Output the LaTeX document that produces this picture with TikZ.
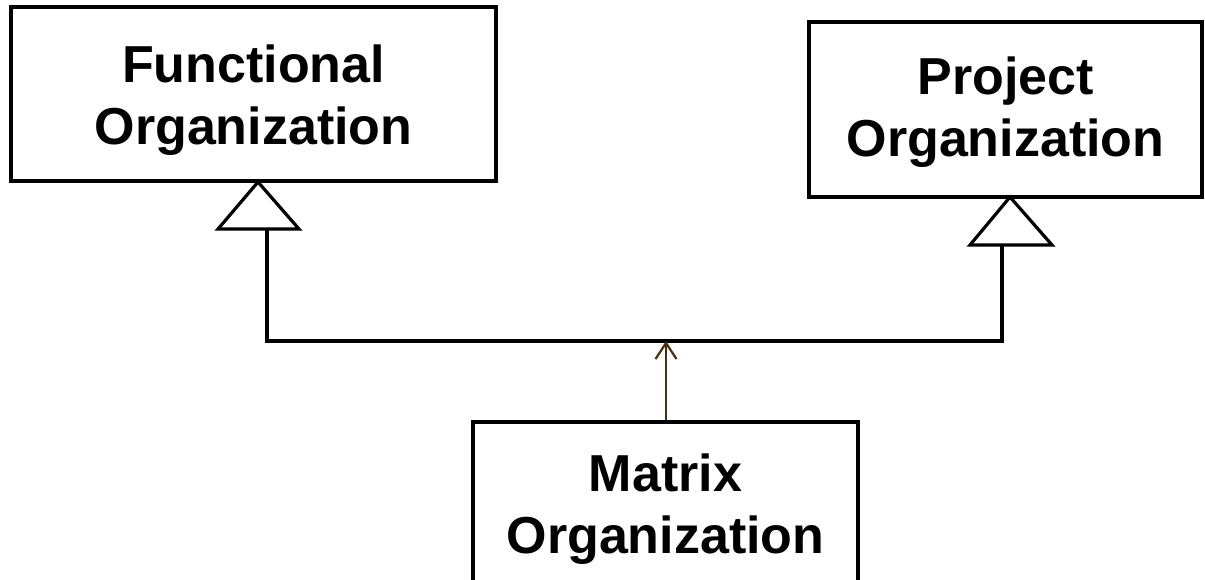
\documentclass[tikz,border=0pt]{standalone}
\usepackage{fontspec}
\setmainfont{Liberation Sans}
\usetikzlibrary{arrows.meta}

% soft grey page background, darker on the left
\pgfdeclarehorizontalshading{pagebg}{100bp}{%
  color(0bp)=(black!20); color(8bp)=(black!12); color(20bp)=(white);
  color(82bp)=(white); color(100bp)=(black!9)}

\tikzset{
  orgbox/.style={draw=black, line width=3.2pt, fill=white, inner sep=0pt},
  orgtext/.style={align=center, inner sep=0pt,
    font=\fontsize{52}{62}\selectfont\bfseries},
  link/.style={draw=black, line width=3.2pt},
  hollowtip/.style={draw=black, line width=3.2pt, fill=white, line join=miter},
  usesarrow/.style={draw={rgb,255:red,75;green,45;blue,15}, line width=2.2pt,
    -{Straight Barb[length=16pt,width=21pt,line width=2.2pt]}}
}

\begin{document}
\begin{tikzpicture}[x=1pt,y=-1pt]
  \useasboundingbox (0,0) rectangle (1205,579);
  \shade[shading=pagebg] (0,0) rectangle (1205,579);
  \clip (0,0) rectangle (1205,579);

  % the three organisation forms
  \node[orgbox, minimum width=485pt, minimum height=174pt] (func) at (253.5,94) {};
  \node[orgtext] (funcText) at ([yshift=-6pt]func.center) {Functional\\Organization};
  \node[orgbox, minimum width=393pt, minimum height=175pt] (proj) at (1005.5,109.5) {};
  \node[orgtext] (projText) at ([yshift=-3pt]proj.center) {Project\\Organization};
  \node[orgbox, minimum width=385pt, minimum height=162pt] (matrix) at (665.5,503) {};
  \node[orgtext] (matrixText) at ([yshift=-6pt]matrix.center) {Matrix\\Organization};

  % generalisation tips and the shared bar
  \coordinate (fTip)  at (258,182);
  \coordinate (fBase) at (267,229);
  \coordinate (pTip)  at (1010,197);
  \coordinate (pBase) at (1002,245);
  \coordinate (bar)   at (666,341);

  \draw[link] (fBase) |- (bar) -| (pBase);
  \draw[hollowtip] (fTip) -- (218,229) -- (299,229) -- cycle;
  \draw[hollowtip] (pTip) -- (970,245) -- (1052,245) -- cycle;

  % matrix organisation points up to the bar
  \draw[usesarrow] (matrix.north -| bar) -- (bar);
\end{tikzpicture}
\end{document}
